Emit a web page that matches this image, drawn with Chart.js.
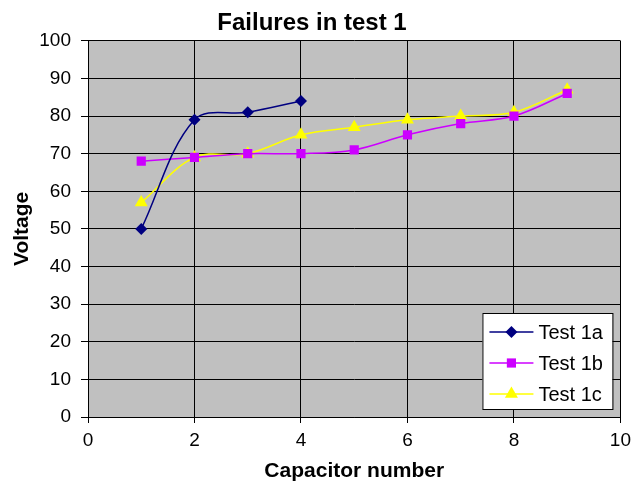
<!DOCTYPE html>
<html>
<head>
<meta charset="utf-8">
<script src="https://cdn.jsdelivr.net/npm/chart.js@4/dist/chart.umd.min.js"></script>
<style>
  html, body { margin: 0; padding: 0; background: #fff; }
  canvas { display: block; }
</style>
</head>
<body>
<canvas id="failures" width="637" height="484"></canvas>
<script>
// values
const capacitorNumbers = [1, 2, 3, 4, 5, 6, 7, 8, 9];
const test1a = [50, 79, 81, 84];
const test1b = [68, 69, 70, 70, 71, 75, 78, 80, 86];
const test1c = [57, 69, 70, 75, 77, 79, 80, 81, 87];
const seriesNames = ['Test 1a', 'Test 1b', 'Test 1c'];

const FONT = '"Liberation Sans", Arial, sans-serif';

function toPoints(values) {
  return values.map((v, i) => ({ x: capacitorNumbers[i], y: v }));
}

// grey plot area
const plotBackground = {
  id: 'plotBackground',
  beforeDraw(chart) {
    const { ctx, chartArea: a } = chart;
    ctx.save();
    ctx.fillStyle = '#C0C0C0';
    ctx.fillRect(a.left, a.top, a.right - a.left, a.bottom - a.top);
    ctx.restore();
  }
};

function marker(ctx, style, x, y, r) {
  ctx.beginPath();
  if (style === 'rectRot') {
    ctx.moveTo(x, y - r); ctx.lineTo(x + r, y); ctx.lineTo(x, y + r); ctx.lineTo(x - r, y);
  } else if (style === 'rect') {
    const s = r * Math.SQRT1_2;
    ctx.rect(x - s, y - s, 2 * s, 2 * s);
  } else {
    ctx.moveTo(x, y - r); ctx.lineTo(x + r * 0.87, y + r * 0.5); ctx.lineTo(x - r * 0.87, y + r * 0.5);
  }
  ctx.closePath();
  ctx.fill();
}

// boxed legend inside the plot, bottom right
const boxLegend = {
  id: 'boxLegend',
  afterDraw(chart) {
    const { ctx, chartArea: a } = chart;
    const w = 130, h = 96;
    const left = a.right - 8 - w, top = a.bottom - 8 - h;
    ctx.save();
    ctx.fillStyle = '#fff';
    ctx.fillRect(left, top, w, h);
    ctx.strokeStyle = '#000';
    ctx.lineWidth = 1;
    ctx.strokeRect(left + 0.5, top + 0.5, w, h);
    ctx.font = '20px ' + FONT;
    ctx.textBaseline = 'middle';
    chart.data.datasets.forEach((ds, i) => {
      const y = top + 19 + i * 31;
      ctx.strokeStyle = ds.borderColor;
      ctx.lineWidth = 1.5;
      ctx.beginPath();
      ctx.moveTo(left + 7, y);
      ctx.lineTo(left + 51, y);
      ctx.stroke();
      ctx.fillStyle = ds.backgroundColor;
      marker(ctx, ds.pointStyle, left + 29, y, ds.pointRadius);
      ctx.fillStyle = '#000';
      ctx.fillText(ds.label, left + 56, y + 1);
    });
    ctx.restore();
  }
};

const datasets = [
  { label: seriesNames[0], data: toPoints(test1a), borderColor: '#000080', backgroundColor: '#000080', pointStyle: 'rectRot', pointRadius: 6 },
  { label: seriesNames[1], data: toPoints(test1b), borderColor: '#CC00FF', backgroundColor: '#CC00FF', pointStyle: 'rect', pointRadius: 6.5 },
  { label: seriesNames[2], data: toPoints(test1c), borderColor: '#FFFF00', backgroundColor: '#FFFF00', pointStyle: 'triangle', pointRadius: 7.5 }
].map(ds => Object.assign(ds, {
  borderWidth: 1.5,
  pointBorderWidth: 0,
  pointHoverRadius: ds.pointRadius,
  tension: 0.35,
  fill: false
}));

new Chart(document.getElementById('failures'), {
  type: 'line',
  data: { datasets },
  plugins: [plotBackground, boxLegend],
  options: {
    responsive: false,
    animation: false,
    layout: { padding: { left: 0, right: 13, top: 0, bottom: 0 } },
    plugins: {
      legend: { display: false },
      tooltip: { enabled: false },
      title: {
        display: true,
        text: 'Failures in test 1',
        color: '#000',
        font: { family: FONT, size: 24, weight: 'bold' },
        padding: { top: 9, bottom: 3 }
      }
    },
    scales: {
      x: {
        type: 'linear',
        min: 0, max: 10,
        ticks: { stepSize: 2, color: '#000', font: { family: FONT, size: 19 }, padding: 6 },
        grid: { color: '#000', lineWidth: 1, tickLength: 6, tickColor: '#000' },
        border: { color: '#000', width: 1 },
        title: { display: true, text: 'Capacitor number', color: '#000', font: { family: FONT, size: 21, weight: 'bold' }, padding: { top: 0, bottom: 0 } },
        afterFit(scale) { scale.height = 67; }
      },
      y: {
        min: 0, max: 100,
        ticks: { stepSize: 10, color: '#000', font: { family: FONT, size: 19 }, padding: 10 },
        grid: { color: '#000', lineWidth: 1, tickLength: 7, tickColor: '#000' },
        border: { color: '#000', width: 1 },
        title: { display: true, text: 'Voltage', color: '#000', font: { family: FONT, size: 21, weight: 'bold' }, padding: { top: 10, bottom: 0 } },
        afterFit(scale) { scale.width = 88; }
      }
    }
  }
});
</script>
</body>
</html>
